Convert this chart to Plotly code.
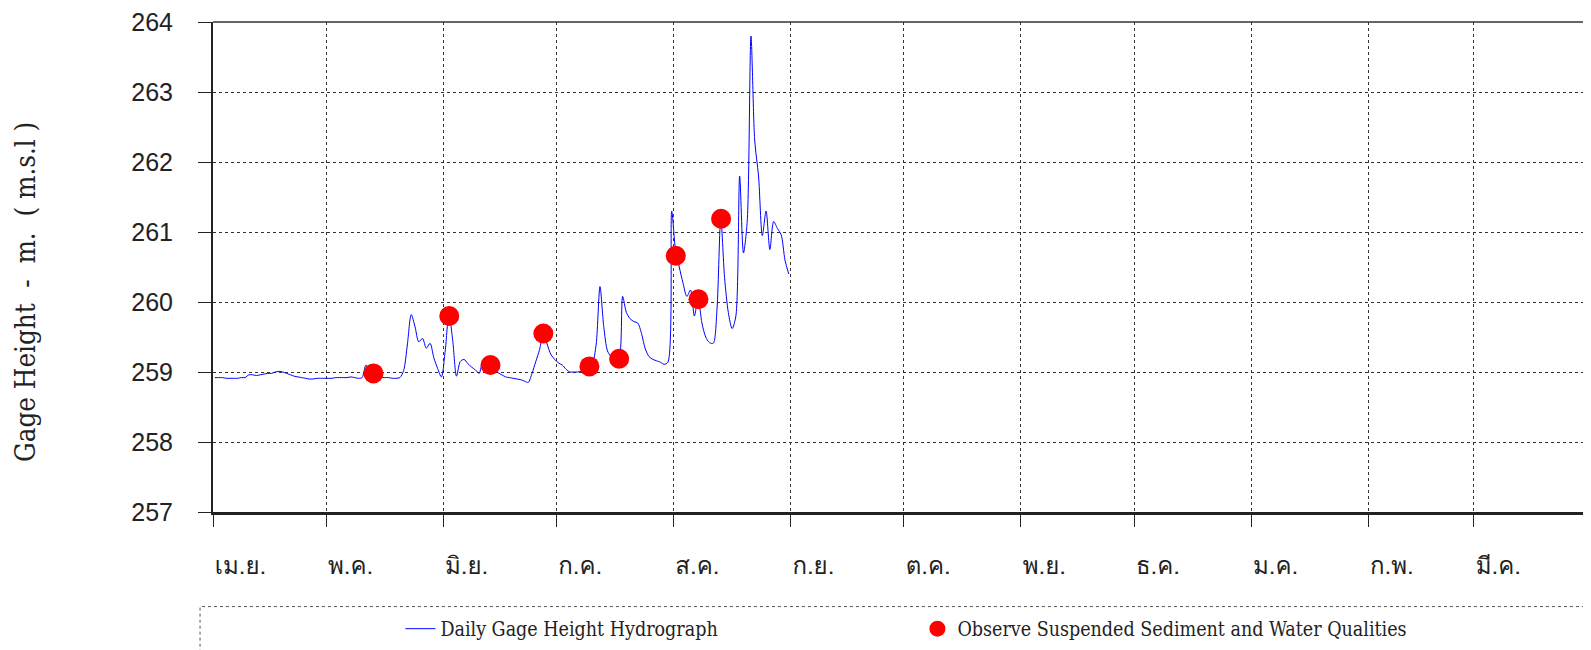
import pandas as pd
import plotly.graph_objects as go

# ---------------- data ----------------
series_start = "2022-04-01 12:00"
gage_height = [
    258.92, 258.92, 258.92, 258.91, 258.91, 258.91, 258.91, 258.92, 258.92, 258.96,
    258.96, 258.95, 258.96, 258.97, 258.98, 258.98, 259.00, 259.01, 259.00, 258.98,
    258.96, 258.94, 258.93, 258.92, 258.91, 258.90, 258.90, 258.91, 258.91, 258.91,
    258.91, 258.91, 258.92, 258.92, 258.92, 258.92, 258.93, 258.92, 258.91, 258.92,
    259.10, 259.02, 258.93, 258.92, 258.92, 258.92, 258.92, 258.91, 258.91, 258.92,
    259.02, 259.40, 259.82, 259.65, 259.43, 259.48, 259.34, 259.41, 259.20, 259.05,
    258.93, 259.30, 259.82, 259.45, 258.94, 259.15, 259.18, 259.12, 259.07, 259.03,
    258.98, 259.15, 259.14, 259.10, 259.05, 258.99, 258.96, 258.93, 258.92, 258.91,
    258.90, 258.89, 258.87, 258.85, 258.98, 259.15, 259.32, 259.55, 259.40, 259.25,
    259.18, 259.13, 259.10, 259.04, 259.00, 259.00, 259.00, 259.01, 259.03, 259.07,
    259.12, 259.40, 260.22, 259.65, 259.30, 259.22, 259.20, 259.19, 260.08, 259.85,
    259.76, 259.72, 259.70, 259.55, 259.33, 259.22, 259.18, 259.16, 259.14, 259.11,
    259.14, 261.30, 260.75, 260.50, 260.27, 260.08, 260.17, 259.80, 260.05, 259.70,
    259.50, 259.42, 259.41, 259.90, 261.20, 260.35, 259.85, 259.62, 259.80, 261.80,
    260.70, 261.15, 263.80, 262.30, 261.80, 260.95, 261.30, 260.75, 261.15, 261.05,
    260.96, 260.60, 260.40,
]

sample_dates = [
    "2022-05-13 12:00", "2022-06-02 14:00", "2022-06-13 12:00",
    "2022-06-27 12:00", "2022-07-09 17:00", "2022-07-17 14:00",
    "2022-08-01 14:00", "2022-08-07 14:00", "2022-08-13 14:00",
]
sample_height = [258.98, 259.80, 259.10, 259.55, 259.08, 259.19, 260.66, 260.04, 261.19]

month_ticks = list(pd.date_range("2022-04-01", periods=12, freq="MS"))
month_labels = ["เม.ย.", "พ.ค.", "มิ.ย.", "ก.ค.", "ส.ค.", "ก.ย.",
                "ต.ค.", "พ.ย.", "ธ.ค.", "ม.ค.", "ก.พ.", "มี.ค."]
y_ticks = [257, 258, 259, 260, 261, 262, 263, 264]

dates = pd.date_range(series_start, periods=len(gage_height), freq="D")

# ---------------- figure ----------------
THAI = "Loma, Garuda, 'Noto Sans Thai', 'Tlwg Typist', 'DejaVu Sans', sans-serif"
NUM = "'Liberation Sans', Arial, sans-serif"
SERIF = "'DejaVu Serif Condensed', 'DejaVu Serif', 'Liberation Serif', serif"

NB = "\u00a0"
y_title = ("Gage" + NB + "Height" + NB * 2 + "-" + NB * 2 + "m." + NB * 2
           + "(" + NB + "m.s.l" + NB + ")")

fig = go.Figure()
fig.add_trace(go.Scatter(
    x=dates, y=gage_height, mode="lines",
    line=dict(color="#0000FF", width=1, shape="spline", smoothing=0.8),
    name="Daily Gage Height Hydrograph",
))
fig.add_trace(go.Scatter(
    x=pd.to_datetime(sample_dates), y=sample_height, mode="markers",
    marker=dict(color="#FF0000", size=20, line=dict(width=0)),
    name="Observe Suspended Sediment and Water Qualities",
))

fig.update_layout(
    width=1583, height=642,
    margin=dict(l=205, r=0, t=14, b=138, autoexpand=False),
    paper_bgcolor="white", plot_bgcolor="white",
    showlegend=True,
    legend=dict(
        orientation="h", x=0.136, xanchor="left", y=-0.199, yanchor="top",
        font=dict(family=SERIF, size=19.5, color="#222"),
        entrywidth=472, entrywidthmode="pixels",
        bgcolor="rgba(0,0,0,0)", borderwidth=0,
    ),
    shapes=[
        dict(type="rect", xref="paper", yref="paper",
             x0=-0.0094, x1=0.9964, y0=-0.35, y1=-0.193,
             line=dict(color="#555", width=1, dash="dot"),
             fillcolor="rgba(0,0,0,0)", layer="below"),
        dict(type="line", xref="paper", yref="paper",
             x0=0, x1=1, y0=1, y1=1,
             line=dict(color="#333", width=1.5), layer="above"),
    ],
    annotations=[dict(
        text=y_title, xref="paper", yref="paper",
        x=-0.1364, y=0.449, xanchor="center", yanchor="middle",
        textangle=-90, showarrow=False,
        font=dict(family=SERIF, size=27.5, color="#222"),
    )],
)

fig.update_xaxes(
    type="date", automargin=False,
    range=["2022-04-01", "2023-04-01"],
    tickmode="array", tickvals=month_ticks, ticktext=month_labels,
    ticks="outside", ticklen=12, tickcolor="#222", tickwidth=1,
    ticklabelposition="outside right", ticklabelstandoff=30,
    ticklabeloverflow="allow",
    tickfont=dict(family=THAI, size=24, color="#222"),
    showgrid=True, gridcolor="#333", griddash="dot", gridwidth=1,
    showline=True, linecolor="#222", linewidth=2.5,
    zeroline=False,
)
fig.update_yaxes(
    automargin=False,
    range=[257, 264],
    tickmode="array", tickvals=y_ticks,
    ticks="outside", ticklen=13, tickcolor="#222", tickwidth=1,
    ticklabelstandoff=20, ticklabeloverflow="allow",
    tickfont=dict(family=NUM, size=25, color="#222"),
    showgrid=True, gridcolor="#333", griddash="dot", gridwidth=1,
    showline=True, linecolor="#222", linewidth=2,
    zeroline=False,
)

fig.write_html("out.html")
